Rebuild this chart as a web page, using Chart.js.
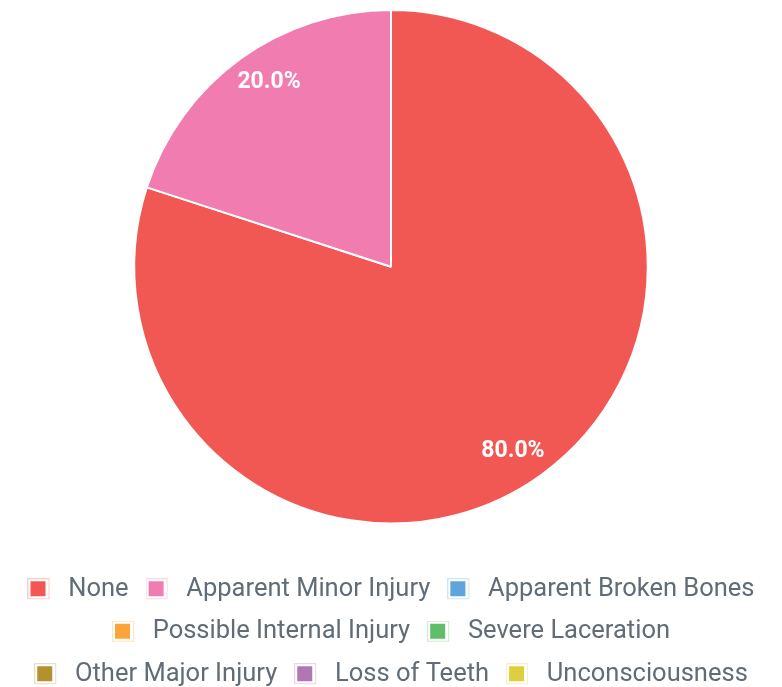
<!DOCTYPE html>
<html>
<head>
<meta charset="utf-8">
<script src="https://cdn.jsdelivr.net/npm/chart.js@4/dist/chart.umd.min.js"></script>
<style>
  html, body { margin: 0; padding: 0; background: #fff; }
  #wrap { width: 782px; height: 687px; }
</style>
</head>
<body>
<div id="wrap"><canvas id="injuryChart"></canvas></div>
<script>
const injuryLabels = [
  "None",
  "Apparent Minor Injury",
  "Apparent Broken Bones",
  "Possible Internal Injury",
  "Severe Laceration",
  "Other Major Injury",
  "Loss of Teeth",
  "Unconsciousness",
];
const injuryCounts = [4, 1, 0, 0, 0, 0, 0, 0];
const injuryColors = [
  "#F15854", "#F17CB0", "#5DA5DA", "#FAA43A",
  "#60BD68", "#B2912F", "#B276B2", "#DECF3F",
];

// legend marker: filled square with a faint frame
function makeMarker(color) {
  const c = document.createElement("canvas");
  c.width = 28;
  c.height = 22;
  const g = c.getContext("2d");
  g.globalAlpha = 0.3;
  g.strokeStyle = color;
  g.lineWidth = 1;
  g.strokeRect(0.5, 0.5, 21, 20);
  g.globalAlpha = 1;
  g.fillStyle = color;
  g.fillRect(3, 3, 15, 15);
  return c;
}

const sliceLabels = {
  id: "sliceLabels",
  afterDatasetsDraw(chart) {
    const ctx = chart.ctx;
    const data = chart.data.datasets[0].data;
    const total = data.reduce((a, b) => a + b, 0);
    const meta = chart.getDatasetMeta(0);
    ctx.save();
    ctx.font = "bold 23px Roboto";
    ctx.fillStyle = "#ffffff";
    ctx.textAlign = "center";
    ctx.textBaseline = "middle";
    meta.data.forEach((arc, i) => {
      if (!data[i]) return;
      const p = arc.getProps(["x", "y", "startAngle", "endAngle", "outerRadius"], true);
      const mid = (p.startAngle + p.endAngle) / 2 + 0.043;
      const r = p.outerRadius * 0.86;
      const pct = ((data[i] / total) * 100).toFixed(1) + "%";
      ctx.fillText(pct, p.x + Math.cos(mid) * r, p.y + Math.sin(mid) * r);
    });
    ctx.restore();
  },
};

const injuryChart = new Chart(document.getElementById("injuryChart"), {
  type: "pie",
  data: {
    labels: injuryLabels,
    datasets: [
      {
        data: injuryCounts,
        backgroundColor: injuryColors,
        borderColor: "#ffffff",
        borderWidth: 2,
      },
    ],
  },
  options: {
    responsive: true,
    maintainAspectRatio: false,
    animation: false,
    layout: { padding: { top: 9, bottom: -10 } },
    plugins: {
      tooltip: { enabled: false },
      legend: {
        position: "bottom",
        // empty title just to push the items away from the pie
        title: { display: true, text: " ", font: { size: 10 }, padding: 11.5 },
        labels: {
          color: "#616c76",
          font: { family: "Roboto", size: 25.5 },
          padding: 17,
          usePointStyle: true,
          pointStyleWidth: 28,
          generateLabels: function (chart) {
            const items = Chart.overrides.pie.plugins.legend.labels.generateLabels(chart);
            items.forEach((it, i) => {
              it.pointStyle = makeMarker(injuryColors[i]);
            });
            return items;
          },
        },
      },
    },
  },
  plugins: [sliceLabels],
});
</script>
</body>
</html>
